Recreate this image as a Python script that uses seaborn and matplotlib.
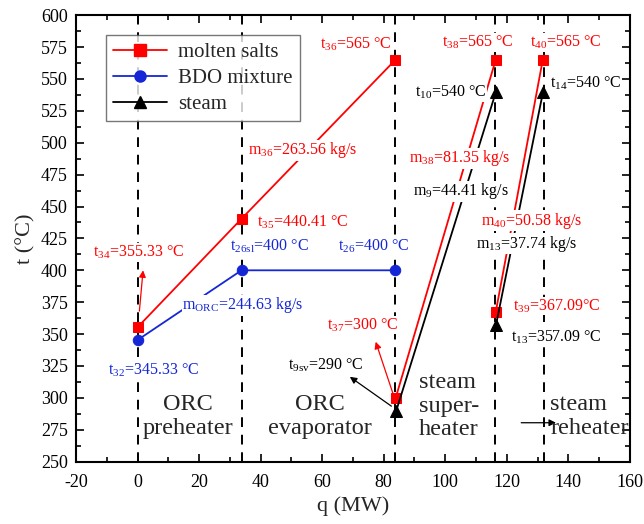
import numpy as np
import pandas as pd
import matplotlib
matplotlib.use("Agg")
import matplotlib.pyplot as plt
import seaborn as sns
from matplotlib.lines import Line2D
from matplotlib.ticker import MultipleLocator

# ---------------- data ----------------
salt_q1 = [0, 33.8, 83.8]
salt_t1 = [355.33, 440.41, 565]
salt_q2 = [83.9, 116.4]
salt_t2 = [300, 565]
salt_q3 = [116.4, 131.7]
salt_t3 = [367.09, 565]

bdo_q = [0, 33.8, 83.8]
bdo_t = [345.33, 400, 400]

steam_q1 = [84.1, 116.5]
steam_t1 = [290, 540]
steam_q2 = [116.5, 131.8]
steam_t2 = [357.09, 540]

section_q = [0, 33.8, 83.8, 116.3, 132.2]

series_names = ["molten salts", "BDO mixture", "steam"]

# ---------------- style ----------------
sns.set_theme(style="ticks")
plt.rcParams["font.family"] = ["Liberation Serif", "DejaVu Serif"]
plt.rcParams["mathtext.fontset"] = "custom"
plt.rcParams["mathtext.rm"] = "Liberation Serif"
plt.rcParams["mathtext.it"] = "Liberation Serif:italic"
plt.rcParams["axes.unicode_minus"] = False

RED = "#FF0000"
BLUE = "#1426D6"
BLACK = "#000000"

fig = plt.figure(figsize=(6.44, 5.24), dpi=100)
ax = fig.add_axes([0.118, 0.119, 0.860, 0.852])

# section dividers
for q in section_q:
    ax.axvline(q, color="black", lw=1.4, ls=(0, (5, 4)), zorder=1)

def seg(qs, ts, color, marker, ms):
    df = pd.DataFrame({"q": qs, "t": ts})
    sns.lineplot(data=df, x="q", y="t", ax=ax, color=color, lw=1.3,
                 marker=marker, markersize=ms, markeredgecolor=color,
                 sort=False, estimator=None, legend=False, zorder=3)

seg(salt_q1, salt_t1, RED, "s", 7)
seg(salt_q2, salt_t2, RED, "s", 7)
seg(salt_q3, salt_t3, RED, "s", 7)
seg(bdo_q, bdo_t, BLUE, "o", 7.5)
seg(steam_q1, steam_t1, BLACK, "^", 8.5)
seg(steam_q2, steam_t2, BLACK, "^", 8.5)

ax.set_xlim(-20, 160)
ax.set_ylim(250, 600)
ax.xaxis.set_major_locator(MultipleLocator(20))
ax.xaxis.set_minor_locator(MultipleLocator(10))
ax.yaxis.set_major_locator(MultipleLocator(25))
ax.yaxis.set_minor_locator(MultipleLocator(12.5))
ax.tick_params(which="both", direction="in", top=True, right=True,
               labelsize=13, width=1.2, colors="black")
ax.tick_params(which="major", length=6)
ax.tick_params(which="minor", length=3.5)
ax.tick_params(axis="x", which="major", pad=9)
ax.tick_params(axis="y", which="major", pad=6)
for s in ax.spines.values():
    s.set_linewidth(1.5)
    s.set_color("black")
ax.set_xlabel("q (MW)", fontsize=16, labelpad=4)
ax.set_ylabel("t (°C)", fontsize=16, labelpad=4)

# ---------------- annotations ----------------
fs = 11.5
def txt(q, t, s, c):
    ax.text(q, t, s, color=c, fontsize=fs, ha="left", va="center", zorder=4,
            bbox=dict(facecolor="white", edgecolor="none", pad=0.3))

txt(59.2, 577, r"t$_{36}$=565 °C", RED)
txt(99.1, 578.5, r"t$_{38}$=565 °C", RED)
txt(127.4, 578.5, r"t$_{40}$=565 °C", RED)
txt(90.1, 539.5, r"t$_{10}$=540 °C", BLACK)
txt(133.9, 547, r"t$_{14}$=540 °C", BLACK)
txt(35.9, 494, r"m$_{36}$=263.56 kg/s", RED)
txt(88.1, 488, r"m$_{38}$=81.35 kg/s", RED)
txt(89.4, 462, r"m$_{9}$=44.41 kg/s", BLACK)
txt(111.5, 439, r"m$_{40}$=50.58 kg/s", RED)
txt(109.9, 421, r"m$_{13}$=37.74 kg/s", BLACK)
txt(121.9, 372, r"t$_{39}$=367.09°C", RED)
txt(121.5, 347.5, r"t$_{13}$=357.09 °C", BLACK)
txt(-14.4, 414, r"t$_{34}$=355.33 °C", RED)
txt(38.8, 438, r"t$_{35}$=440.41 °C", RED)
txt(30.1, 419, r"t$_{26\mathrm{sl}}$=400 °C", BLUE)
txt(65.1, 419, r"t$_{26}$=400 °C", BLUE)
txt(14.5, 372.5, r"m$_{\mathrm{ORC}}$=244.63 kg/s", BLUE)
txt(-9.5, 322, r"t$_{32}$=345.33 °C", BLUE)
txt(61.5, 357, r"t$_{37}$=300 °C", RED)
txt(48.8, 325.5, r"t$_{9\mathrm{sv}}$=290 °C", BLACK)

def arrow(q0, t0, q1, t1, c):
    ax.annotate("", xy=(q1, t1), xytext=(q0, t0),
                arrowprops=dict(arrowstyle="-|>", color=c, lw=0.9,
                                mutation_scale=10, shrinkA=0, shrinkB=0),
                zorder=4)

arrow(0.6, 368, 1.8, 400, RED)
arrow(83, 303.5, 77.4, 344, RED)
arrow(82.5, 293.5, 69, 316.5, BLACK)
arrow(124.7, 280.5, 136, 280.5, BLACK)

# region labels
rfs = 17.5
ax.text(16.4, 285.5, "ORC\npreheater", fontsize=rfs, ha="center", va="center",
        linespacing=1.2, zorder=4)
ax.text(59.3, 285.5, "ORC\nevaporator", fontsize=rfs, ha="center", va="center",
        linespacing=1.2, zorder=4)
ax.text(91.5, 293.5, "steam\nsuper-\nheater", fontsize=rfs, ha="left", va="center",
        linespacing=1.15, zorder=4)
ax.text(134.1, 285.5, "steam\nreheater", fontsize=rfs, ha="left", va="center",
        linespacing=1.2, zorder=4)

# legend
handles = [
    Line2D([], [], color=RED, marker="s", markersize=8, lw=1.3),
    Line2D([], [], color=BLUE, marker="o", markersize=8, lw=1.3),
    Line2D([], [], color=BLACK, marker="^", markersize=8.5, lw=1.3),
]
leg = ax.legend(handles, series_names, loc="upper left",
                bbox_to_anchor=(0.054, 0.955), fontsize=15, frameon=True,
                fancybox=False, edgecolor="#555555", handlelength=2.6,
                borderpad=0.35, labelspacing=0.3, handletextpad=0.5,
                borderaxespad=0)
leg.get_frame().set_linewidth(1.0)
leg.set_zorder(5)

fig.savefig("out.png", dpi=100)
